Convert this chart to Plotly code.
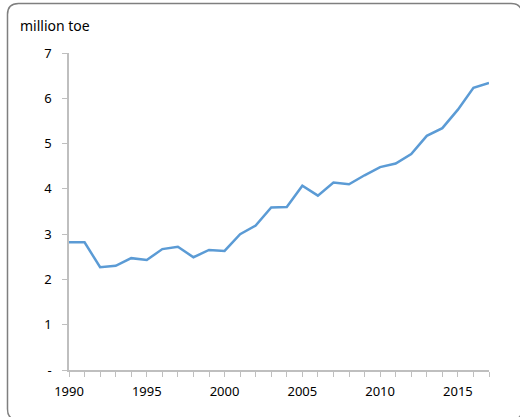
import plotly.graph_objects as go

years = list(range(1990, 2018))
values = [2.82, 2.82, 2.27, 2.30, 2.47, 2.43, 2.67, 2.72, 2.49, 2.65, 2.63,
          3.00, 3.19, 3.59, 3.60, 4.07, 3.85, 4.14, 4.10, 4.30, 4.48, 4.56,
          4.77, 5.17, 5.34, 5.75, 6.23, 6.34]
y_tickvals = [0, 1, 2, 3, 4, 5, 6, 7]
y_ticktext = ["-", "1", "2", "3", "4", "5", "6", "7"]
x_tickvals = [1990, 1995, 2000, 2005, 2010, 2015]
unit_label = "million toe"

W, H = 520, 417
ML, MR, MT, MB = 69, 31, 53, 47
PW, PH = W - ML - MR, H - MT - MB

def px_to_paper_x(px):
    return (px - ML) / PW

def px_to_paper_y(py):
    return (H - MB - py) / PH

# rounded border frame (decoration)
x0, y0, x1, y1, r = 7.5, 3.5, 522, 420, 11
pts = [
    ("M", x0 + r, y0), ("L", x1 - r, y0), ("Q", x1, y0, x1, y0 + r),
    ("L", x1, y1 - r), ("Q", x1, y1, x1 - r, y1), ("L", x0 + r, y1),
    ("Q", x0, y1, x0, y1 - r), ("L", x0, y0 + r), ("Q", x0, y0, x0 + r, y0),
]
path = ""
for p in pts:
    cmd = p[0]
    coords = p[1:]
    s = []
    for i in range(0, len(coords), 2):
        s.append(f"{px_to_paper_x(coords[i]):.5f},{px_to_paper_y(coords[i+1]):.5f}")
    path += cmd + " " + " ".join(s) + " "
path += "Z"

fig = go.Figure()
fig.add_trace(go.Scatter(x=years, y=values, mode="lines",
                         line=dict(color="#5b9bd5", width=2.5),
                         showlegend=False, hoverinfo="skip"))

fig.update_layout(
    width=W, height=H,
    margin=dict(l=ML, r=MR, t=MT, b=MB, pad=0),
    paper_bgcolor="white", plot_bgcolor="white",
    font=dict(family="Noto Sans, Open Sans, sans-serif", size=13, color="#000000"),
    shapes=[dict(type="path", path=path, xref="paper", yref="paper",
                 line=dict(color="#7f7f7f", width=1.5), fillcolor="rgba(0,0,0,0)",
                 layer="below")],
    annotations=[dict(text=unit_label, x=px_to_paper_x(18), y=px_to_paper_y(25),
                      xref="paper", yref="paper", xanchor="left", yanchor="middle",
                      showarrow=False, font=dict(size=14, color="#000000"))],
)
fig.update_xaxes(range=[1990, 2017], tickvals=x_tickvals, showgrid=False,
                 zeroline=False, showline=True, linecolor="#bfbfbf", linewidth=1.5,
                 ticks="outside", ticklen=5, tickcolor="#bfbfbf", tickwidth=1,
                 ticklabelstandoff=4,
                 minor=dict(dtick=1, tick0=1990, ticks="outside", ticklen=5,
                            tickcolor="#bfbfbf", tickwidth=1, showgrid=False),
                 tickfont=dict(size=13), fixedrange=True)
fig.update_yaxes(range=[0, 7], tickvals=y_tickvals, ticktext=y_ticktext,
                 showgrid=False, zeroline=False, showline=True, linecolor="#bfbfbf",
                 linewidth=1.5, ticks="outside", ticklen=5, tickcolor="#bfbfbf",
                 tickwidth=1, ticklabelstandoff=8, tickfont=dict(size=13),
                 fixedrange=True)

fig.write_html("out.html", config={"displayModeBar": False},
               post_script="document.body.style.margin='0';document.body.style.overflow='hidden';")
